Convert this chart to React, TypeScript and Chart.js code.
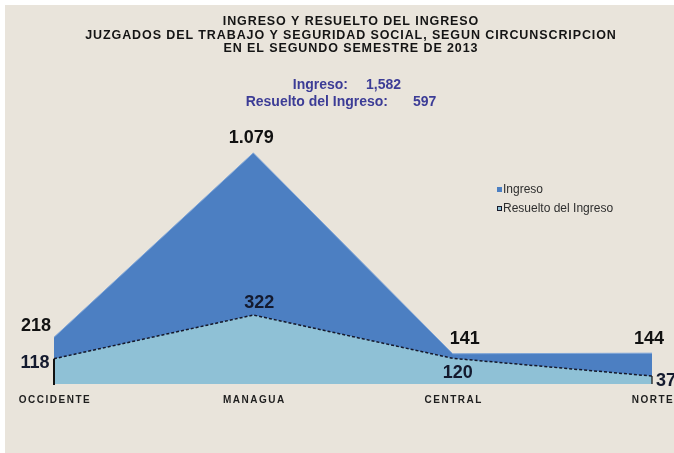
import React, { useEffect, useRef } from "react";
import { Chart, registerables } from "chart.js";

Chart.register(...registerables);

// ---- data ----
const categories = ["OCCIDENTE", "MANAGUA", "CENTRAL", "NORTE"];
const ingreso = [218, 1079, 141, 144];
const resuelto = [118, 322, 120, 37];
const seriesNames = ["Ingreso", "Resuelto del Ingreso"];
const titleLines = [
  "INGRESO Y RESUELTO DEL INGRESO",
  "JUZGADOS DEL TRABAJO Y SEGURIDAD SOCIAL, SEGUN CIRCUNSCRIPCION",
  "EN EL SEGUNDO SEMESTRE DE 2013",
];
const yMin = 0;
const yMax = 1200;

// ---- styles ----
const BG = "#e9e4db";
const DARK = "#4c7fc2";
const LIGHT = "#8fc1d6";
const TOTAL_COLOR = "#3c3c96";
const ingresoLabelOffsets = [
  [-18, -11],
  [-2, -15],
  [12, -15],
  [-3, -14],
];
const resueltoLabelOffsets = [
  [-19, 4],
  [6, -12],
  [5, 15],
  [13, 5],
];

const sum = (a: number[]) => a.reduce((s, v) => s + v, 0);

const decor = {
  id: "decor",
  beforeDraw(chart: any) {
    const ctx = chart.ctx;
    ctx.save();
    ctx.fillStyle = "#ffffff";
    ctx.fillRect(0, 0, chart.width, chart.height);
    ctx.fillStyle = BG;
    ctx.fillRect(5, 5, chart.width - 5, chart.height - 5);
    ctx.restore();
  },
  afterDatasetsDraw(chart: any) {
    const ctx = chart.ctx;
    const metaR = chart.getDatasetMeta(1);
    const y0 = chart.scales.y.getPixelForValue(0);
    const first = metaR.data[0];
    const last = metaR.data[metaR.data.length - 1];
    ctx.save();
    ctx.strokeStyle = "#111111";
    ctx.lineWidth = 2;
    ctx.beginPath();
    ctx.moveTo(first.x, first.y);
    ctx.lineTo(first.x, y0 + 1);
    ctx.stroke();
    ctx.lineWidth = 1.2;
    ctx.beginPath();
    ctx.moveTo(last.x, last.y);
    ctx.lineTo(last.x, y0);
    ctx.stroke();
    ctx.restore();
  },
  afterDraw(chart: any) {
    const ctx = chart.ctx;
    ctx.save();
    // titles
    ctx.fillStyle = "#141414";
    ctx.font = "bold 12.5px Arial, 'Liberation Sans', sans-serif";
    ctx.textAlign = "center";
    ctx.textBaseline = "middle";
    (ctx as any).letterSpacing = "0.9px";
    const ty = [22, 35.5, 49];
    titleLines.forEach((t, i) => ctx.fillText(t, 351, ty[i]));
    (ctx as any).letterSpacing = "0px";

    // totals
    ctx.fillStyle = TOTAL_COLOR;
    ctx.font = "bold 14px Arial, 'Liberation Sans', sans-serif";
    ctx.textAlign = "right";
    ctx.fillText(seriesNames[0] + ":", 348, 85);
    ctx.fillText(seriesNames[1] + ":", 388, 102);
    ctx.textAlign = "left";
    ctx.fillText(sum(ingreso).toLocaleString("en-US"), 366, 85);
    ctx.fillText(sum(resuelto).toLocaleString("en-US"), 413, 102);

    // legend
    ctx.textAlign = "left";
    ctx.font = "12px Arial, 'Liberation Sans', sans-serif";
    ctx.fillStyle = DARK;
    ctx.fillRect(497, 187, 5, 5);
    ctx.fillStyle = "#2e2e2e";
    ctx.fillText(seriesNames[0], 503, 190);
    ctx.fillStyle = LIGHT;
    ctx.fillRect(497, 206, 5, 5);
    ctx.strokeStyle = "#1a1a2a";
    ctx.lineWidth = 1;
    ctx.strokeRect(497.5, 206.5, 4, 4);
    ctx.fillStyle = "#2e2e2e";
    ctx.fillText(seriesNames[1], 503, 209);

    // category labels
    const xs = chart.scales.x;
    ctx.textAlign = "center";
    ctx.font = "bold 10px Arial, 'Liberation Sans', sans-serif";
    ctx.fillStyle = "#1e1e1e";
    (ctx as any).letterSpacing = "1.5px";
    categories.forEach((c, i) => {
      ctx.fillText(c, xs.getPixelForValue(i) + 1, 400);
    });
    (ctx as any).letterSpacing = "0px";

    // data labels
    ctx.font = "bold 18px Arial, 'Liberation Sans', sans-serif";
    ctx.fillStyle = "#111111";
    const metaI = chart.getDatasetMeta(0);
    metaI.data.forEach((p: any, i: number) => {
      const [dx, dy] = ingresoLabelOffsets[i];
      ctx.fillText(ingreso[i].toLocaleString("de-DE"), p.x + dx, p.y + dy);
    });
    const metaR = chart.getDatasetMeta(1);
    ctx.fillStyle = "#141a2e";
    metaR.data.forEach((p: any, i: number) => {
      const [dx, dy] = resueltoLabelOffsets[i];
      const txt = resuelto[i].toLocaleString("de-DE");
      if (i === metaR.data.length - 1) {
        ctx.textAlign = "left";
        ctx.fillText(txt, p.x + dx - 9, p.y + dy);
        ctx.textAlign = "center";
      } else {
        ctx.fillText(txt, p.x + dx, p.y + dy);
      }
    });
    ctx.restore();
  },
};

export default function App() {
  const ref = useRef<HTMLCanvasElement | null>(null);
  useEffect(() => {
    document.body.style.margin = "0";
    if (!ref.current) return;
    const chart = new Chart(ref.current, {
      type: "line",
      data: {
        labels: categories,
        datasets: [
          {
            label: seriesNames[0],
            data: ingreso,
            backgroundColor: DARK,
            borderColor: "#7ea5d8",
            borderWidth: 1,
            fill: "origin",
            pointRadius: 0,
            tension: 0,
            order: 1,
          },
          {
            label: seriesNames[1],
            data: resuelto,
            backgroundColor: LIGHT,
            borderColor: "#15182a",
            borderWidth: 1.5,
            borderDash: [3, 2],
            fill: "origin",
            pointRadius: 0,
            tension: 0,
            order: 0,
          },
        ],
      },
      options: {
        responsive: false,
        animation: false,
        devicePixelRatio: 1,
        events: [],
        layout: { padding: { left: 54, right: 22, top: 127, bottom: 69 } },
        plugins: {
          legend: { display: false },
          title: { display: false },
          tooltip: { enabled: false },
        },
        scales: {
          x: { type: "category", display: false, offset: false },
          y: { display: false, min: yMin, max: yMax },
        },
      },
      plugins: [decor],
    });
    return () => chart.destroy();
  }, []);
  return (
    <canvas
      ref={ref}
      width={674}
      height={453}
      style={{ position: "absolute", left: 0, top: 0, width: 674, height: 453 }}
    />
  );
}
